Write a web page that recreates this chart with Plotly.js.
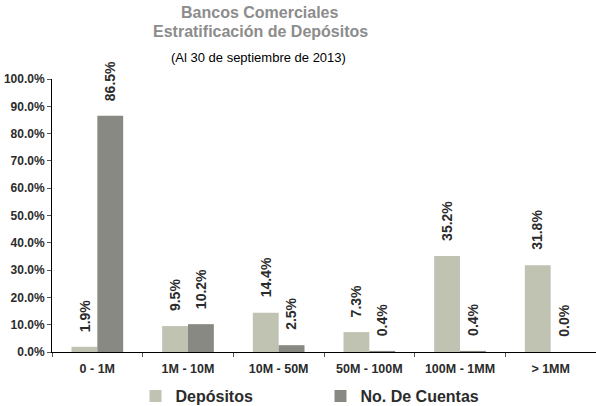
<!DOCTYPE html>
<html>
<head>
<meta charset="utf-8">
<script src="https://cdn.plot.ly/plotly-3.0.1.min.js"></script>
<style>html,body{margin:0;padding:0;background:#fff;}#chart{width:596px;height:406px;}</style>
</head>
<body>
<div id="chart"></div>
<script>
const categories = ["0 - 1M", "1M - 10M", "10M - 50M", "50M - 100M", "100M - 1MM", "> 1MM"];
const depositos = [0.019, 0.095, 0.144, 0.073, 0.352, 0.318];
const cuentas = [0.865, 0.102, 0.025, 0.004, 0.004, 0.000];
const seriesNames = ["Depósitos", "No. De Cuentas"];
const colors = ["#c0c2b2", "#898984"];
const titleLines = ["Bancos Comerciales", "Estratificación de Depósitos"];
const subtitle = "(Al 30 de septiembre de 2013)";

const FONT = "Liberation Sans, Arial, sans-serif";

const traces = [depositos, cuentas].map((vals, i) => ({
  type: "bar",
  name: seriesNames[i],
  x: categories,
  y: vals,
  marker: {color: colors[i], line: {width: 0}},
  hoverinfo: "skip"
}));

const annotations = [];
[depositos, cuentas].forEach((vals, i) => {
  vals.forEach((v, j) => {
    annotations.push({
      x: categories[j], y: v, xref: "x", yref: "y",
      text: "<b>" + (v * 100).toFixed(1) + "%</b>",
      textangle: -90, showarrow: false,
      xanchor: "center", yanchor: "bottom",
      xshift: i === 0 ? -13 : 13, yshift: 13,
      font: {family: FONT, size: 14, color: "#2b2b2b"}
    });
  });
});
// title lines
const titleY = [1.2454, 1.1722];
titleLines.forEach((t, k) => {
  annotations.push({
    xref: "paper", yref: "paper", x: 0.3824, y: titleY[k],
    xanchor: "center", yanchor: "middle", showarrow: false,
    text: "<b>" + t + "</b>",
    font: {family: FONT, size: 16, color: "#8c8c8c"}
  });
});
annotations.push({
  xref: "paper", yref: "paper", x: 0.3805, y: 1.077,
  xanchor: "center", yanchor: "middle", showarrow: false,
  text: subtitle,
  font: {family: FONT, size: 13, color: "#000"}
});

const layout = {
  width: 596, height: 406,
  margin: {l: 52, r: 0, t: 79, b: 54, autoexpand: false},
  paper_bgcolor: "#fff", plot_bgcolor: "#fff",
  font: {family: FONT},
  barmode: "group", bargap: 0.43, bargroupgap: 0,
  showlegend: true,
  legend: {
    orientation: "h", x: 0.1535, xanchor: "left",
    y: 10 / 406, yref: "container", yanchor: "middle",
    font: {family: FONT, size: 16, color: "#2b2b2b", weight: "bold"},
    itemwidth: 30, entrywidth: 140
  },
  xaxis: {
    type: "category", showline: true, linecolor: "#000", linewidth: 1,
    ticks: "outside", tickson: "boundaries", ticklen: 4, tickcolor: "#555",
    ticklabelstandoff: 5, automargin: false,
    showgrid: false, zeroline: false, fixedrange: true,
    tickfont: {family: FONT, size: 12.5, color: "#2b2b2b", weight: "bold"}
  },
  yaxis: {
    range: [0, 1], dtick: 0.1, tickformat: ".1%",
    showline: true, linecolor: "#000", linewidth: 1,
    ticks: "outside", ticklen: 4, tickcolor: "#555", automargin: false,
    showgrid: false, zeroline: false, fixedrange: true,
    tickfont: {family: FONT, size: 12, color: "#2b2b2b", weight: "bold"}
  },
  annotations: annotations
};

Plotly.newPlot("chart", traces, layout, {displayModeBar: false, staticPlot: true});
</script>
</body>
</html>
